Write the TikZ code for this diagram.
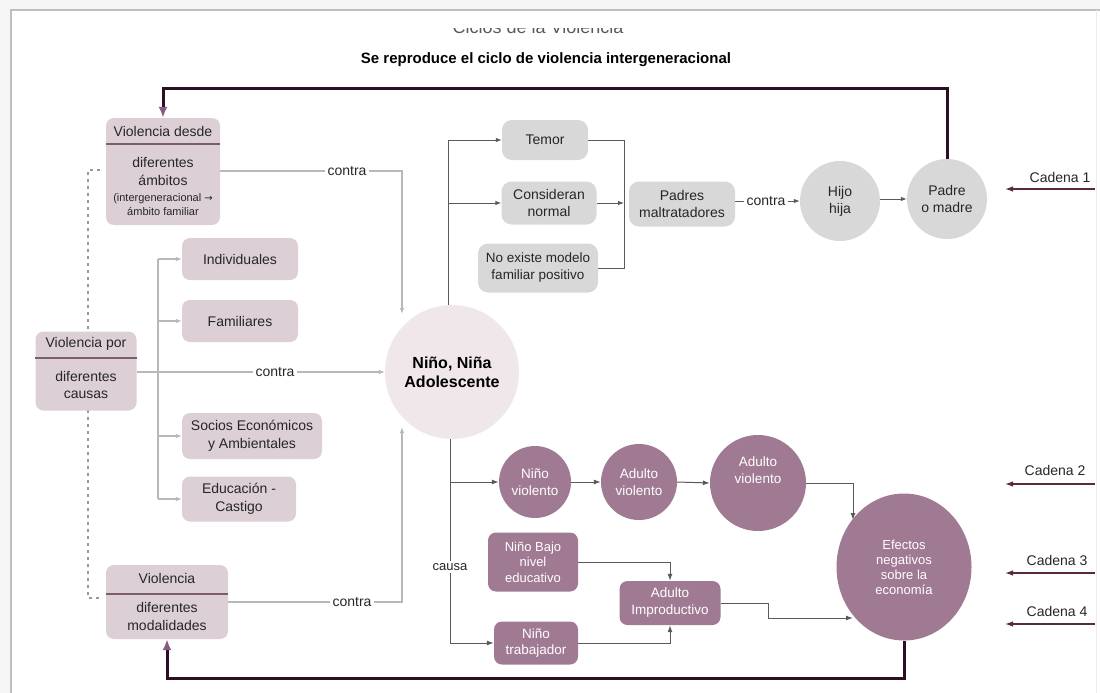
\documentclass[tikz,border=0pt]{standalone}
\usepackage{fontspec}
\setmainfont{Liberation Sans}
\newfontfamily\arrowfont{DejaVu Sans}
\usetikzlibrary{arrows.meta,shapes.geometric,calc}
\definecolor{mauveL}{HTML}{DDCFD6}
\definecolor{mauveD}{HTML}{A07A92}
\definecolor{grayB}{HTML}{D8D8D8}
\definecolor{ninoC}{HTML}{F0E7EB}
\definecolor{divC}{HTML}{7D5C6D}
\definecolor{fbC}{HTML}{2A1020}
\definecolor{arrowP}{HTML}{8C5A86}
\definecolor{lineG}{HTML}{B8B8B8}
\definecolor{lineD}{HTML}{5A5A5A}
\definecolor{cadC}{HTML}{5A2A3A}
\pgfdeclarelayer{back}
\pgfdeclarelayer{bg}
\pgfsetlayers{back,bg,main}
\tikzset{
  every node/.style={font=\fontsize{14}{16}\selectfont, text=black!85, inner sep=0pt},
  lbox/.style={fill=mauveL, rounded corners=8pt, align=center},
  gbox/.style={fill=grayB, rounded corners=10pt, align=center},
  dbox/.style={fill=mauveD, rounded corners=8pt, align=center, text=white},
  dcirc/.style={circle, fill=mauveD, align=center, text=white},
  gcirc/.style={circle, fill=grayB, align=center},
  lbl/.style={fill=white, inner sep=2pt},
  gl/.style={draw=lineG, line width=1.1pt},
  dl/.style={draw=lineD, line width=1pt},
  gtip/.style={-{Latex[length=6pt,width=4.5pt]}},
  dtip/.style={-{Latex[length=7pt,width=5pt]}},
  fbl/.style={draw=fbC, line width=3pt, -{Latex[length=11pt,width=9pt,color=arrowP]}},
  cad/.style={draw=cadC, line width=1.2pt, -{Latex[length=8pt,width=5.5pt]}},
  divl/.style={draw=divC, line width=1.8pt},
}
\begin{document}
\begin{tikzpicture}[x=1pt,y=-1pt]
\useasboundingbox (0,0) rectangle (1100,693);
\begin{pgfonlayer}{back}
\fill[white] (0,0) rectangle (1100,693);
\fill[black!4] (0,0) rectangle (1100,10);
\fill[black!4] (0,0) rectangle (11,693);
\draw[black!25, line width=1.5pt] (11,700) -- (11,10) -- (1100,10);
\draw[black!8, line width=1pt] (1096,10) -- (1096,700);
\end{pgfonlayer}

% titles
\begin{scope}
\clip (0,29) rectangle (1100,60);
\node[anchor=base, text=black!65, font=\fontsize{18}{20}\selectfont] (ciclos) at (538,34) {Ciclos de la Violencia};
\end{scope}
\node[font=\bfseries\fontsize{15}{17}\selectfont, text=black] (title) at (546,60) {Se reproduce el ciclo de violencia intergeneracional};

% left split boxes
\node[lbox, minimum width=114pt, minimum height=107pt] (vd) at (163,171.5) {};
\node (vdh) at (163,131) {Violencia desde};
\node[align=center, font=\fontsize{14}{18}\selectfont] (vdb1) at (163,171) {diferentes\\ámbitos};
\node[align=center, font=\fontsize{11}{14}\selectfont] (vdb2) at (163,204.5) {(intergeneracional {\arrowfont\fontsize{10}{14}\selectfont →}\\ámbito familiar};

\node[lbox, minimum width=101pt, minimum height=79pt] (vp) at (86,371) {};
\node (vph) at (86,344) {Violencia por};
\node[align=center, font=\fontsize{14}{17}\selectfont] (vpb) at (86,385) {diferentes\\causas};

\node[lbox, minimum width=122pt, minimum height=74pt] (vm) at (167,602) {};
\node (vmh) at (167,578) {Violencia};
\node[align=center, font=\fontsize{14}{18}\selectfont] (vmb) at (167,616) {diferentes\\modalidades};

\draw[divl] (vd.west |- 0,144) -- (vd.east |- 0,144);
\draw[divl] (vp.west |- 0,358) -- (vp.east |- 0,358);
\draw[divl] (vm.west |- 0,594) -- (vm.east |- 0,594);

% categories
\node[lbox, minimum width=116pt, minimum height=42pt] (ind) at (240,259) {Individuales};
\node[lbox, minimum width=116pt, minimum height=42pt] (fam) at (240,321) {Familiares};
\node[lbox, minimum width=140pt, minimum height=46pt, font=\fontsize{14}{18}\selectfont] (soc) at (252,436) {Socios Económicos\\y Ambientales};
\node[lbox, minimum width=114pt, minimum height=45pt, font=\fontsize{14}{18}\selectfont] (edu) at (239,499) {Educación -\\Castigo};

% central
\node[circle, fill=ninoC, minimum size=134pt, align=center, text=black, font=\bfseries\fontsize{16}{19}\selectfont] (nino) at (452,372) {Niño, Niña\\Adolescente};

% top right
\node[gbox, minimum width=86pt, minimum height=40pt] (temor) at (545,140) {Temor};
\node[gbox, minimum width=95pt, minimum height=43pt, font=\fontsize{14}{17}\selectfont] (cons) at (549,203) {Consideran\\normal};
\node[gbox, minimum width=120pt, minimum height=49pt, font=\fontsize{13.5}{17}\selectfont] (noex) at (538,268) {No existe modelo\\familiar positivo};
\node[gbox, minimum width=106pt, minimum height=45pt, font=\fontsize{14}{17}\selectfont] (padres) at (682,204) {Padres\\maltratadores};
\node[gcirc, minimum size=80pt, font=\fontsize{14}{17}\selectfont] (hijo) at (840,201) {Hijo\\hija};
\node[gcirc, minimum size=80pt, font=\fontsize{14}{17}\selectfont] (padre) at (947,199) {Padre\\o madre};

% bottom
\node[dcirc, minimum size=72pt, font=\fontsize{13.5}{17}\selectfont] (nv) at (535,482) {Niño\\violento};
\node[dcirc, minimum size=76pt, font=\fontsize{13.5}{17}\selectfont] (av1) at (639,482) {Adulto\\violento};
\node[dcirc, minimum size=96pt, font=\fontsize{13.5}{17}\selectfont] (av2) at (758,483) {Adulto\\violento\\[8pt]};
\node[ellipse, fill=mauveD, minimum width=135pt, minimum height=147pt, align=center, text=white, font=\fontsize{13}{15}\selectfont] (ef) at (904,567) {Efectos\\negativos\\sobre la\\economía};
\node[dbox, minimum width=90pt, minimum height=59pt, font=\fontsize{13}{15.5}\selectfont] (nb) at (533,562) {Niño Bajo\\nivel\\educativo};
\node[dbox, minimum width=101pt, minimum height=44pt, font=\fontsize{13.5}{17}\selectfont] (ai) at (670,603) {Adulto\\Improductivo};
\node[dbox, minimum width=84pt, minimum height=43pt, font=\fontsize{13.5}{16}\selectfont] (nt) at (536,643) {Niño\\trabajador};

% labels
\node[lbl] (c1) at (347,171) {contra};
\node[lbl] (c2) at (275,372) {contra};
\node[lbl] (c3) at (352,602) {contra};
\node[lbl] (c4) at (766,201) {contra};
\node[lbl, font=\fontsize{13}{15}\selectfont] (causa) at (450,567) {causa};

\node (cad1) at (1060,177) {Cadena 1};
\node (cad2) at (1055,470) {Cadena 2};
\node (cad3) at (1057,560) {Cadena 3};
\node (cad4) at (1057,611) {Cadena 4};

% coordinates
\coordinate (k1) at (402,171);
\coordinate (k1e) at (402,314);
\coordinate (k3) at (402,602);
\coordinate (k3e) at (402,427);
\coordinate (bt) at (158,259);
\coordinate (bb) at (158,499);
\coordinate (vx) at (448,140);
\coordinate (rc) at (624,140);
\coordinate (vx2) at (450,643);
\coordinate (k5) at (853,483);
\coordinate (k5e) at (853,520);
\coordinate (k7) at (768,618);
\coordinate (k7e) at (853,618);
\coordinate (tp) at (163,88);
\coordinate (bp) at (167,678);
\coordinate (ds1) at (100,170);
\coordinate (ds2) at (88,170);
\coordinate (ds3) at (88,598);
\coordinate (ds4) at (100,598);
\coordinate (ca1s) at (1095,189); \coordinate (ca1e) at (1005,189);
\coordinate (ca2s) at (1095,484); \coordinate (ca2e) at (1005,484);
\coordinate (ca3s) at (1095,573); \coordinate (ca3e) at (1005,573);
\coordinate (ca4s) at (1095,624); \coordinate (ca4e) at (1005,624);

\begin{pgfonlayer}{bg}
% dashed link
\draw[black!40, line width=1.6pt, dash pattern=on 3pt off 4pt] (ds1) -- (ds2) -- (ds3) -- (ds4);
% contra lines
\draw[gl] (vd.east |- c1) -- (c1.west);
\draw[gl, gtip] (c1.east) -- (k1) -- (k1e);
\draw[gl] (vp.east |- c2) -- (c2.west);
\draw[gl, gtip] (c2.east) -- (nino.west);
\draw[gl] (vm.east |- c3) -- (c3.west);
\draw[gl, gtip] (c3.east) -- (k3) -- (k3e);
% branch to categories
\draw[gl] (bt) -- (bb);
\draw[gl, gtip] (bt) -- (ind.west);
\draw[gl, gtip] (bt |- fam.west) -- (fam.west);
\draw[gl, gtip] (bt |- soc.west) -- (soc.west);
\draw[gl, gtip] (bb) -- (edu.west |- bb);
% top right
\draw[dl] (vx |- nino.north) -- (vx);
\draw[dl, gtip] (vx) -- (temor.west);
\draw[dl, gtip] (vx |- cons.west) -- (cons.west);
\draw[dl] (temor.east) -- (rc) -- (rc |- noex.east) -- (noex.east);
\draw[dl, gtip] (cons.east) -- (rc |- cons.east);
\draw[dl] (padres.east |- c4) -- (c4.west);
\draw[dl, gtip] (c4.east) -- (hijo.west |- c4);
\draw[dl, gtip] (hijo.east |- padre) -- (padre.west);
% bottom
\draw[dl] (vx2 |- nino.south) -- (causa.north);
\draw[dl] (causa.south) -- (vx2);
\draw[dl, dtip] (vx2 |- nv.west) -- (nv.west);
\draw[dl, dtip] (vx2) -- (nt.west);
\draw[dl, dtip] (nv.east) -- (av1.west);
\draw[dl, dtip] (av1.east) -- (av2.west);
\draw[dl, dtip] (av2.east) -- (k5) -- (k5e);
\draw[dl, dtip] (nb.east) -| (ai.north);
\draw[dl, dtip] (nt.east) -| (ai.south);
\draw[dl, dtip] (ai.east) -| (k7) -- (k7e);
% feedback loops
\draw[fbl] (padre.north) |- (tp) -- (vd.north -| tp);
\draw[fbl] (ef.south) |- (bp) -- (vm.south -| bp);
% cadenas
\draw[cad] (ca1s) -- (ca1e);
\draw[cad] (ca2s) -- (ca2e);
\draw[cad] (ca3s) -- (ca3e);
\draw[cad] (ca4s) -- (ca4e);
\end{pgfonlayer}
\end{tikzpicture}
\end{document}
